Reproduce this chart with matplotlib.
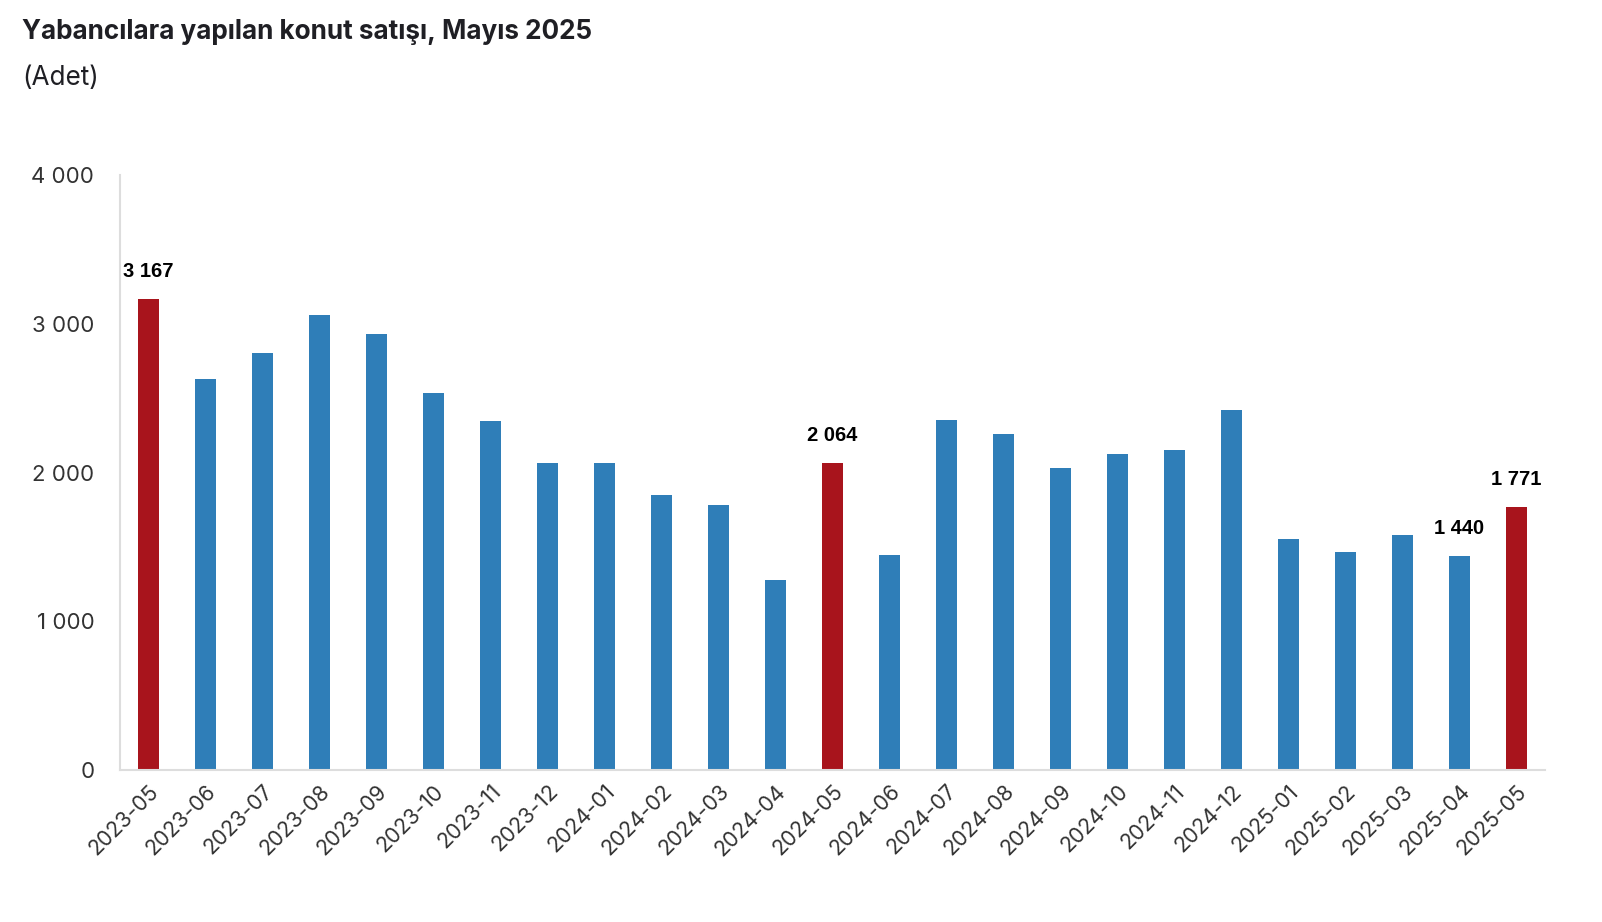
import numpy as np
import matplotlib
matplotlib.use('Agg')
import matplotlib.pyplot as plt

months = ['2023-05', '2023-06', '2023-07', '2023-08', '2023-09', '2023-10', '2023-11',
          '2023-12', '2024-01', '2024-02', '2024-03', '2024-04', '2024-05', '2024-06',
          '2024-07', '2024-08', '2024-09', '2024-10', '2024-11', '2024-12', '2025-01',
          '2025-02', '2025-03', '2025-04', '2025-05']
sales = [3167, 2629, 2803, 3059, 2931, 2534, 2346, 2064, 2064, 1849, 1782, 1277, 2064,
         1445, 2353, 2259, 2030, 2124, 2151, 2420, 1553, 1466, 1580, 1440, 1771]
highlight = ['2023-05', '2024-05', '2025-05']
labelled = ['2023-05', '2024-05', '2025-04', '2025-05']

BLUE = '#2f7eb8'
RED = '#a8141c'

fig = plt.figure(figsize=(16.02, 9.22), dpi=100)
ax = fig.add_axes([120/1602, 1 - 770/922, 1425/1602, 595/922])

x = np.arange(len(months))
colors = [RED if m in highlight else BLUE for m in months]
bars = ax.bar(x, sales, width=0.37, color=colors)

for xi, m, v in zip(x, months, sales):
    if m in labelled:
        ax.annotate(f'{v:,}'.replace(',', ' '), (xi, v), xytext=(0, 13),
                    textcoords='offset points', ha='center', va='bottom',
                    fontsize=14.5, fontweight='bold', family='Liberation Sans')

ax.set_xlim(-0.5, len(months) - 0.5)
ax.set_ylim(0, 4000)
ax.set_yticks([0, 1000, 2000, 3000, 4000])
ax.set_yticklabels([f'{t:,}'.replace(',', ' ') for t in [0, 1000, 2000, 3000, 4000]],
                   family='Inter', fontsize=16, color='#333333')
ax.set_xticks(x)
ax.set_xticklabels(months, rotation=45, ha='right', rotation_mode='anchor',
                   family='Inter', fontsize=15.5, color='#333333')
ax.tick_params(axis='y', length=0, pad=18.5)
ax.tick_params(axis='x', length=0, pad=8)
for s in ['top', 'right']:
    ax.spines[s].set_visible(False)
for s in ['left', 'bottom']:
    ax.spines[s].set_color('#dddddd')
    ax.spines[s].set_linewidth(1.5)

fig.text(22/1602, 1 - 32/922, 'Yabancılara yapılan konut satışı, Mayıs 2025',
         family='Inter', fontweight='bold', fontsize=18.8, color='#1f1f24', va='center')
fig.text(22/1602, 1 - 78/922, '(Adet)', family='Inter', fontsize=18.8,
         color='#1f1f24', va='center')

fig.savefig('out.png', dpi=100)
